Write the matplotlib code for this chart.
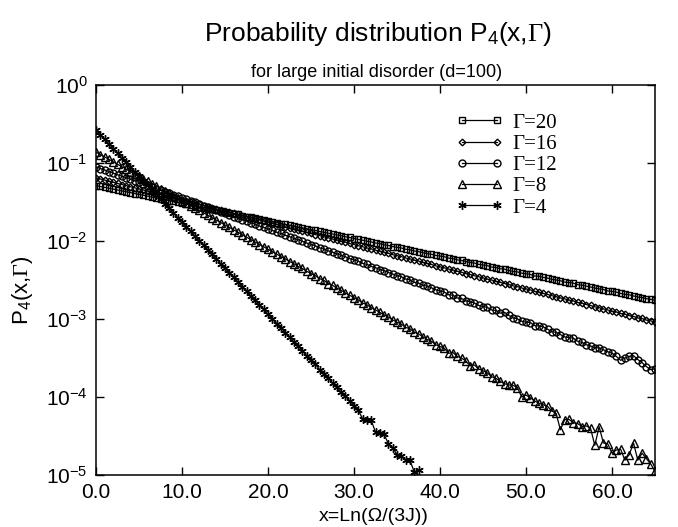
import numpy as np
import matplotlib
matplotlib.use('Agg')
import matplotlib.pyplot as plt

plt.rcParams['font.family'] = ['Liberation Sans', 'DejaVu Sans']
plt.rcParams['mathtext.fontset'] = 'custom'
plt.rcParams['mathtext.rm'] = 'Liberation Serif'
plt.rcParams['mathtext.sf'] = 'Liberation Sans'
plt.rcParams['mathtext.it'] = 'Liberation Serif:italic'

# x grid: 0 .. 65, step 0.5
x = np.linspace(0, 65, 131)

# log10 P4(x, Gamma)
logp_g20 = [
    -1.290, -1.301, -1.313, -1.322, -1.335, -1.347, -1.358, -1.368, -1.380, -1.392,
    -1.403, -1.413, -1.426, -1.437, -1.448, -1.460, -1.471, -1.481, -1.493, -1.505,
    -1.516, -1.526, -1.538, -1.550, -1.561, -1.571, -1.584, -1.595, -1.606, -1.616,
    -1.629, -1.640, -1.651, -1.660, -1.674, -1.686, -1.696, -1.707, -1.719, -1.730,
    -1.742, -1.751, -1.765, -1.776, -1.786, -1.799, -1.808, -1.822, -1.831, -1.843,
    -1.855, -1.864, -1.878, -1.888, -1.900, -1.910, -1.923, -1.932, -1.946, -1.955,
    -1.968, -1.980, -1.990, -2.003, -2.012, -2.026, -2.034, -2.049, -2.057, -2.072,
    -2.081, -2.090, -2.106, -2.113, -2.128, -2.137, -2.149, -2.162, -2.170, -2.185,
    -2.194, -2.202, -2.219, -2.226, -2.242, -2.250, -2.263, -2.276, -2.283, -2.300,
    -2.307, -2.317, -2.334, -2.340, -2.356, -2.361, -2.378, -2.390, -2.396, -2.413,
    -2.420, -2.428, -2.449, -2.452, -2.467, -2.475, -2.492, -2.500, -2.510, -2.527,
    -2.533, -2.540, -2.560, -2.566, -2.578, -2.590, -2.604, -2.613, -2.622, -2.640,
    -2.646, -2.655, -2.672, -2.684, -2.690, -2.705, -2.718, -2.725, -2.740, -2.748,
    -2.759]

logp_g16 = [
    -1.190, -1.205, -1.218, -1.234, -1.247, -1.262, -1.276, -1.290, -1.304, -1.319,
    -1.333, -1.346, -1.362, -1.375, -1.390, -1.404, -1.418, -1.433, -1.446, -1.461,
    -1.475, -1.490, -1.503, -1.519, -1.532, -1.546, -1.561, -1.574, -1.590, -1.603,
    -1.618, -1.631, -1.647, -1.660, -1.675, -1.688, -1.703, -1.717, -1.731, -1.746,
    -1.760, -1.776, -1.788, -1.804, -1.817, -1.832, -1.845, -1.861, -1.874, -1.889,
    -1.903, -1.918, -1.931, -1.947, -1.959, -1.975, -1.988, -2.003, -2.016, -2.032,
    -2.045, -2.061, -2.073, -2.089, -2.101, -2.118, -2.130, -2.145, -2.158, -2.175,
    -2.188, -2.200, -2.218, -2.229, -2.246, -2.257, -2.274, -2.287, -2.301, -2.318,
    -2.330, -2.343, -2.361, -2.372, -2.389, -2.400, -2.418, -2.428, -2.446, -2.458,
    -2.473, -2.490, -2.500, -2.518, -2.530, -2.545, -2.556, -2.575, -2.585, -2.603,
    -2.615, -2.626, -2.646, -2.655, -2.673, -2.684, -2.701, -2.712, -2.730, -2.742,
    -2.758, -2.768, -2.788, -2.797, -2.815, -2.826, -2.844, -2.853, -2.872, -2.884,
    -2.900, -2.910, -2.929, -2.939, -2.957, -2.966, -2.987, -2.993, -3.015, -3.024,
    -3.043]

logp_g12 = [
    -1.050, -1.071, -1.089, -1.110, -1.129, -1.150, -1.169, -1.190, -1.209, -1.229,
    -1.249, -1.268, -1.289, -1.308, -1.328, -1.348, -1.368, -1.387, -1.408, -1.427,
    -1.448, -1.466, -1.488, -1.506, -1.528, -1.546, -1.567, -1.587, -1.606, -1.627,
    -1.647, -1.665, -1.687, -1.705, -1.727, -1.744, -1.767, -1.784, -1.808, -1.825,
    -1.846, -1.864, -1.888, -1.903, -1.927, -1.943, -1.967, -1.984, -2.003, -2.026,
    -2.045, -2.062, -2.088, -2.102, -2.127, -2.142, -2.166, -2.183, -2.203, -2.226,
    -2.244, -2.259, -2.287, -2.300, -2.327, -2.340, -2.367, -2.380, -2.404, -2.424,
    -2.443, -2.457, -2.488, -2.497, -2.530, -2.538, -2.568, -2.578, -2.600, -2.625,
    -2.642, -2.655, -2.690, -2.694, -2.731, -2.737, -2.768, -2.780, -2.795, -2.826,
    -2.841, -2.850, -2.885, -2.890, -2.925, -2.915, -2.955, -2.985, -2.998, -3.030,
    -3.040, -3.045, -3.085, -3.090, -3.100, -3.130, -3.165, -3.170, -3.200, -3.230,
    -3.239, -3.245, -3.285, -3.300, -3.330, -3.345, -3.370, -3.370, -3.395, -3.420,
    -3.438, -3.480, -3.530, -3.500, -3.480, -3.470, -3.520, -3.560, -3.610, -3.650,
    -3.640]

logp_g8 = [
    -0.860, -0.892, -0.922, -0.954, -0.985, -1.016, -1.047, -1.079, -1.109, -1.141,
    -1.172, -1.202, -1.234, -1.265, -1.296, -1.327, -1.358, -1.390, -1.420, -1.452,
    -1.483, -1.514, -1.546, -1.576, -1.608, -1.638, -1.670, -1.701, -1.732, -1.764,
    -1.795, -1.825, -1.858, -1.887, -1.920, -1.950, -1.982, -2.012, -2.045, -2.074,
    -2.106, -2.138, -2.167, -2.201, -2.228, -2.263, -2.290, -2.325, -2.352, -2.388,
    -2.418, -2.445, -2.482, -2.505, -2.545, -2.568, -2.605, -2.630, -2.668, -2.695,
    -2.729, -2.755, -2.795, -2.818, -2.855, -2.883, -2.915, -2.948, -2.975, -3.012,
    -3.041, -3.065, -3.108, -3.125, -3.170, -3.190, -3.228, -3.262, -3.285, -3.330,
    -3.352, -3.375, -3.440, -3.430, -3.480, -3.500, -3.540, -3.600, -3.590, -3.640,
    -3.664, -3.690, -3.740, -3.760, -3.800, -3.830, -3.845, -3.850, -3.880, -4.000,
    -3.975, -4.010, -4.050, -4.080, -4.100, -4.120, -4.180, -4.210, -4.420, -4.290,
    -4.287, -4.330, -4.340, -4.380, -4.370, -4.400, -4.620, -4.380, -4.590, -4.600,
    -4.720, -4.680, -4.670, -4.810, -4.740, -4.590, -4.810, -4.720, -4.790, -4.860,
    -4.950]

logp_g4 = [
    -0.580, -0.640, -0.697, -0.757, -0.815, -0.876, -0.933, -0.993, -1.052, -1.110,
    -1.170, -1.228, -1.288, -1.346, -1.405, -1.465, -1.523, -1.582, -1.641, -1.700,
    -1.760, -1.818, -1.877, -1.937, -1.995, -2.055, -2.112, -2.173, -2.230, -2.290,
    -2.350, -2.405, -2.468, -2.524, -2.588, -2.640, -2.705, -2.760, -2.822, -2.878,
    -2.940, -2.995, -3.058, -3.110, -3.178, -3.228, -3.292, -3.350, -3.405, -3.470,
    -3.530, -3.580, -3.648, -3.700, -3.760, -3.820, -3.870, -3.940, -3.990, -4.050,
    -4.110, -4.170, -4.280, -4.290, -4.300, -4.450, -4.460, -4.480, -4.600, -4.650,
    -4.740, -4.760, -4.810, -4.810, -4.960, -4.940]

labels = ['Γ=20', 'Γ=16', 'Γ=12', 'Γ=8', 'Γ=4']
series = [logp_g20, logp_g16, logp_g12, logp_g8, logp_g4]
markers = ['s', 'D', 'o', '^', (6, 2, 0)]
msizes = [4.0, 3.4, 5.0, 5.6, 6.0]

fig = plt.figure(figsize=(6.78, 5.27), dpi=100)
ax = fig.add_axes([0.1416, 0.0987, 0.8245, 0.74])

for lab, ys, mk, ms in zip(labels, series, markers, msizes):
    xs = x[:len(ys)]
    ax.plot(xs, 10.0 ** np.array(ys), color='black', lw=0.9,
            marker=mk, ms=ms, mfc='none', mec='black', mew=1.0, label=lab)

ax.set_yscale('log')
ax.set_xlim(0, 65)
ax.set_ylim(1e-5, 1)
ax.set_xticks([0, 10, 20, 30, 40, 50, 60])
ax.set_xticklabels(['0.0', '10.0', '20.0', '30.0', '40.0', '50.0', '60.0'])
ax.set_yticks([1e-5, 1e-4, 1e-3, 1e-2, 1e-1, 1])
ax.minorticks_off()
ax.tick_params(direction='in', top=True, right=True, length=6, width=1,
               labelsize=15, pad=6)
for sp in ax.spines.values():
    sp.set_linewidth(1.1)

leg = ax.legend(loc='upper left', bbox_to_anchor=(0.625, 0.955), frameon=False,
                numpoints=2, handlelength=2.3, handletextpad=0.4,
                labelspacing=0.08, borderpad=0,
                prop={'family': 'Liberation Serif', 'size': 15})

fig.text(0.558, 0.935, r'Probability distribution P$_{\mathsf{4}}$(x,$\Gamma$)',
         ha='center', va='center', fontsize=19)
fig.text(0.556, 0.862, 'for large initial disorder (d=100)',
         ha='center', va='center', fontsize=13)
fig.text(0.033, 0.45, r'P$_{\mathsf{4}}$(x,$\Gamma$)', rotation=90,
         ha='center', va='center', fontsize=16)
fig.text(0.551, 0.011, 'x=Ln(Ω/(3J))', ha='center', va='baseline', fontsize=14)

fig.savefig('out.png', dpi=100)
